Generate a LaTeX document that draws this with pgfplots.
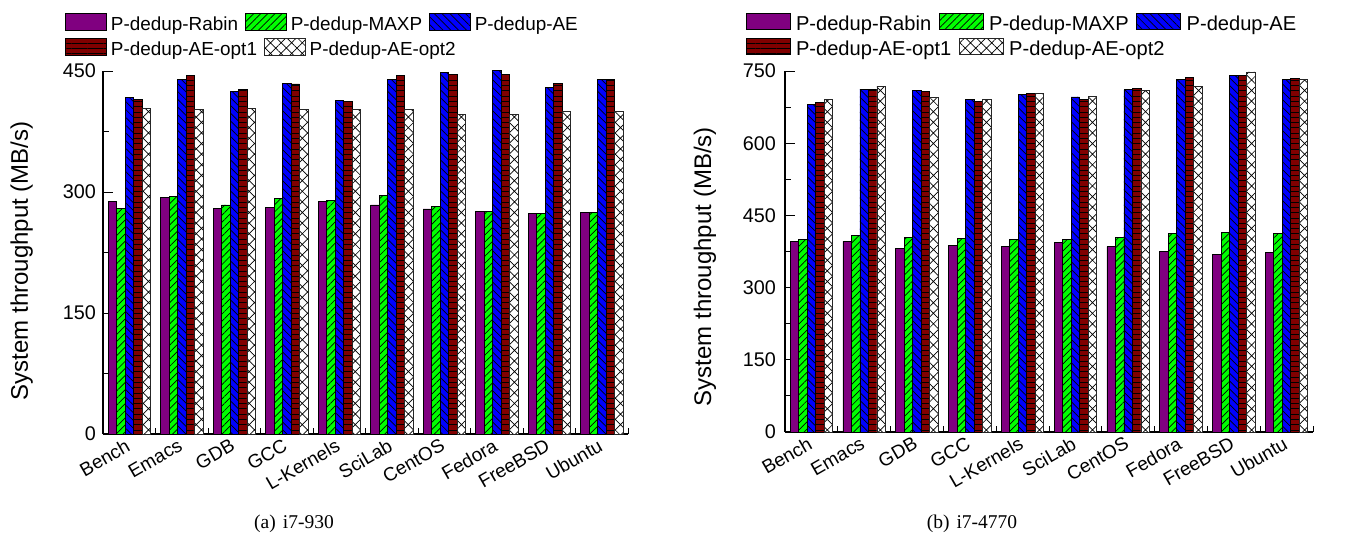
\documentclass[border=0pt]{standalone}
\usepackage{pgfplots}
\pgfplotsset{compat=1.18}
\usepackage{pgfplotstable}
\usepackage{fontspec}
\setmainfont{Liberation Sans}
\newfontfamily\capfont{Liberation Serif}
\usetikzlibrary{patterns.meta}

\definecolor{cRabin}{RGB}{128,0,128}
\definecolor{cMaxp}{RGB}{0,255,0}
\definecolor{cAE}{RGB}{0,0,255}
\definecolor{cOptA}{RGB}{128,0,0}

% i7-930
\pgfplotstableread{
idx rabin maxp ae opta optb
0 288 280 417 415 404
1 293 295 440 444 402
2 280 284 425 427 404
3 281 292 435 434 402
4 288 290 413 412 402
5 284 296 439 444 402
6 279 282 448 446 396
7 276 276 451 446 396
8 273 273 430 435 400
9 275 275 440 439 400
}\tableA

% i7-4770
\pgfplotstableread{
idx rabin maxp ae opta optb
0 396 400 681 684 691
1 396 409 712 712 718
2 381 404 710 708 695
3 387 402 690 687 690
4 386 400 702 704 704
5 393 400 696 691 698
6 385 404 711 714 710
7 375 413 733 737 718
8 369 415 740 740 748
9 373 413 733 735 733
}\tableB

\pgfplotsset{
 sRabin/.style={fill=cRabin, draw=black, line width=0.8pt},
 sMaxp/.style={fill=cMaxp, draw=black, line width=0.8pt, postaction={pattern={Lines[angle=45,distance=5pt,line width=0.7pt]}, pattern color=black}},
 sAE/.style={fill=cAE, draw=black, line width=0.8pt, postaction={pattern={Lines[angle=-45,distance=5.5pt,line width=0.7pt]}, pattern color=black}},
 sOptA/.style={fill=cOptA, draw=black, line width=0.8pt, postaction={pattern={Lines[angle=0,distance=5.3pt,line width=0.8pt]}, pattern color=black}},
 sOptB/.style={fill=white, draw=black!85, line width=0.8pt, postaction={pattern={Hatch[angle=45,distance=7.5pt,line width=0.7pt]}, pattern color=black}},
 legA/.style={legend image code/.code={\draw[##1] (0pt,-6.5pt) rectangle (41pt,10.8pt);}},
 legB/.style={legend image code/.code={\draw[##1] (0pt,-5.8pt) rectangle (44pt,10.2pt);}},
 legsepA/.style={legend style={
     /tikz/every odd column/.append style={column sep=4.2pt},
     /tikz/every even column/.append style={column sep=6.7pt}}},
 legsepB/.style={legend style={
     /tikz/every odd column/.append style={column sep=5.5pt},
     /tikz/every even column/.append style={column sep=7.6pt}}},
 mylegend/.style={legend columns=-1, legend cell align=left,
   legend style={draw=none, fill=none, inner sep=0pt, outer sep=0pt, anchor=west,
     nodes={inner xsep=0pt, inner ysep=0pt}}},
 base/.style={
   scale only axis, ybar=0pt, bar width=8.5pt,
   xmin=-0.5, xmax=9.5, ymin=0,
   axis x line=bottom, axis y line=left,
   axis line style={line width=1.2pt, -},
   tick align=inside,
   major tick length=10pt, minor tick length=6pt,
   tick style={line width=1pt, black},
   xtick={0,...,9},
   xticklabels={Bench,Emacs,GDB,GCC,L-Kernels,SciLab,CentOS,Fedora,FreeBSD,Ubuntu},
   minor xtick={-0.5,0.5,...,9.5},
   major x tick style={draw=none},
   xticklabel style={rotate=30, anchor=north east, font=\fontsize{19}{20}\selectfont, inner sep=1pt, xshift=-5pt},
   /pgf/number format/assume math mode=true,
   ylabel={System throughput (MB/s)},
   clip=false,
   mylegend,
 },
}

\begin{document}
\begin{tikzpicture}
\path[use as bounding box] (0,0) rectangle (1352pt,536pt);

% ---------- (a) i7-930 ----------
\begin{axis}[base, legsepA, width=525pt, height=363pt, at={(103pt,102pt)}, anchor=south west,
  ymax=450, ytick={0,150,300,450}, minor ytick={75,225,375},
  yticklabel style={font=\fontsize{19.8}{21}\selectfont, xshift=-3.5pt},
  ylabel style={font=\fontsize{24}{26}\selectfont, at={(axis description cs:-0.155,0.477)}, anchor=center},
  legend style={font=\fontsize{18.9}{20}\selectfont, at={(-0.0724,1.1336)}}]
\addplot[sRabin, legA] table[x=idx, y=rabin] {\tableA};
\addplot[sMaxp, legA] table[x=idx, y=maxp] {\tableA};
\addplot[sAE, legA] table[x=idx, y=ae] {\tableA};
\addplot[sOptA, legA] table[x=idx, y=opta] {\tableA};
\addplot[sOptB, legA] table[x=idx, y=optb] {\tableA};
\legend{P-dedup-Rabin, P-dedup-MAXP, P-dedup-AE}
\end{axis}
\begin{axis}[scale only axis, width=525pt, height=363pt, at={(103pt,102pt)}, anchor=south west,
  hide axis, xmin=0, xmax=1, ymin=0, ymax=1, mylegend, legsepA,
  legend style={font=\fontsize{18.9}{20}\selectfont, at={(-0.0724,1.0647)}}]
\addlegendimage{sOptA, legA}
\addlegendimage{sOptB, legA}
\legend{P-dedup-AE-opt1, P-dedup-AE-opt2}
\end{axis}

% ---------- (b) i7-4770 ----------
\begin{axis}[base, legsepB, width=528pt, height=361pt, at={(785pt,104pt)}, anchor=south west,
  ymax=750, ytick={0,150,...,750}, minor ytick={75,225,...,675},
  yticklabel style={font=\fontsize{19.8}{21}\selectfont, xshift=-5.5pt},
  ylabel style={font=\fontsize{24}{26}\selectfont, at={(axis description cs:-0.1515,0.458)}, anchor=center},
  legend style={font=\fontsize{20.1}{21}\selectfont, at={(-0.0744,1.1335)}}]
\addplot[sRabin, legB] table[x=idx, y=rabin] {\tableB};
\addplot[sMaxp, legB] table[x=idx, y=maxp] {\tableB};
\addplot[sAE, legB] table[x=idx, y=ae] {\tableB};
\addplot[sOptA, legB] table[x=idx, y=opta] {\tableB};
\addplot[sOptB, legB] table[x=idx, y=optb] {\tableB};
\legend{P-dedup-Rabin, P-dedup-MAXP, P-dedup-AE}
\end{axis}
\begin{axis}[scale only axis, width=528pt, height=361pt, at={(785pt,104pt)}, anchor=south west,
  hide axis, xmin=0, xmax=1, ymin=0, ymax=1, mylegend, legsepB,
  legend style={font=\fontsize{20.1}{21}\selectfont, at={(-0.0744,1.0643)}}]
\addlegendimage{sOptA, legB}
\addlegendimage{sOptB, legB}
\legend{P-dedup-AE-opt1, P-dedup-AE-opt2}
\end{axis}

\node[font=\capfont\fontsize{19.5}{21}\selectfont] at (294pt,12pt) {(a)\hspace{7pt}i7-930};
\node[font=\capfont\fontsize{19.5}{21}\selectfont] at (972pt,12pt) {(b)\hspace{7pt}i7-4770};
\end{tikzpicture}
\end{document}
